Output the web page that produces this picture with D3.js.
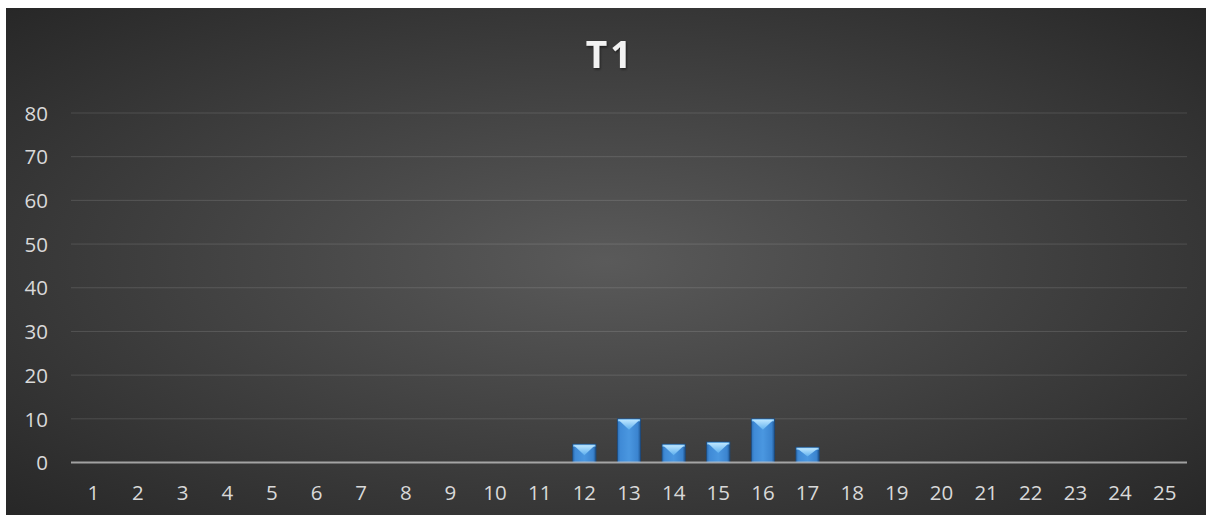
<!DOCTYPE html>
<html>
<head>
<meta charset="utf-8">
<script src="https://cdn.jsdelivr.net/npm/d3@7"></script>
<style>
  html, body { margin: 0; padding: 0; background: #ffffff; }
  svg { display: block; }
</style>
</head>
<body>
<svg id="chart" width="1206" height="517"></svg>
<script>
// Chart data
const title = "T1";
const categories = d3.range(1, 26).map(String);
const values = [0, 0, 0, 0, 0, 0, 0, 0, 0, 0, 0, 4.2, 10, 4.2, 4.7, 10, 3.5, 0, 0, 0, 0, 0, 0, 0, 0];
const yTicks = [0, 10, 20, 30, 40, 50, 60, 70, 80];

const svg = d3.select("#chart");
const W = 1206, H = 517;
const frame = { x: 6, y: 8, w: W - 6, h: 507 };
const plot = { left: 71, right: 1187, top: 113, bottom: 462.5 };
const labelFont = "'Open Sans', 'Noto Sans', sans-serif";

const defs = svg.append("defs");

// Background: dark radial fill, lighter toward the middle
const bg = defs.append("radialGradient").attr("id", "bgGrad")
  .attr("cx", 0.5).attr("cy", 0.5).attr("r", 0.75);
bg.append("stop").attr("offset", "0%").attr("stop-color", "#5a5a5a");
bg.append("stop").attr("offset", "100%").attr("stop-color", "#242424");

// Bar body: horizontal shading
const body = defs.append("linearGradient").attr("id", "barBody")
  .attr("x1", 0).attr("x2", 1).attr("y1", 0).attr("y2", 0);
body.append("stop").attr("offset", "0%").attr("stop-color", "#2c6fb5");
body.append("stop").attr("offset", "12%").attr("stop-color", "#3f8ad6");
body.append("stop").attr("offset", "50%").attr("stop-color", "#4a97e0");
body.append("stop").attr("offset", "88%").attr("stop-color", "#3b84cf");
body.append("stop").attr("offset", "100%").attr("stop-color", "#1f5590");

// Bevel highlight on the top of each bar
const bevel = defs.append("linearGradient").attr("id", "barBevel")
  .attr("x1", 0).attr("x2", 0).attr("y1", 0).attr("y2", 1);
bevel.append("stop").attr("offset", "0%").attr("stop-color", "#bde6ff");
bevel.append("stop").attr("offset", "100%").attr("stop-color", "#5fb0ee");

// soft shadow under the title
const shadow = defs.append("filter").attr("id", "titleShadow")
  .attr("x", "-20%").attr("y", "-20%").attr("width", "140%").attr("height", "140%");
shadow.append("feDropShadow").attr("dx", 1).attr("dy", 1.5)
  .attr("stdDeviation", 1.2).attr("flood-color", "#000").attr("flood-opacity", 0.5);

svg.append("rect")
  .attr("x", frame.x).attr("y", frame.y)
  .attr("width", frame.w).attr("height", frame.h)
  .attr("fill", "url(#bgGrad)");

// Scales
const x = d3.scaleBand().domain(categories)
  .range([plot.left, plot.right]).paddingInner(0.48).paddingOuter(0.24);
const y = d3.scaleLinear().domain([0, 80]).range([plot.bottom, plot.top]);

// Gridlines
svg.append("g").selectAll("line")
  .data(yTicks.filter(d => d > 0))
  .join("line")
  .attr("x1", plot.left).attr("x2", plot.right)
  .attr("y1", d => y(d)).attr("y2", d => y(d))
  .attr("stroke", "#ffffff").attr("stroke-opacity", 0.13)
  .attr("stroke-width", 1);

// Y axis labels
const yAxis = d3.axisLeft(y).tickValues(yTicks).tickSize(0).tickPadding(0);
const gy = svg.append("g").attr("transform", `translate(${48},0)`).call(yAxis);
gy.select(".domain").remove();
gy.selectAll("text")
  .attr("fill", "#d9d9d9")
  .attr("font-family", labelFont)
  .attr("font-size", 20.5)
  .attr("dy", "0.35em");

// Bars
const data = categories.map((c, i) => ({ cat: c, value: values[i] }));
const bars = svg.append("g").selectAll("g")
  .data(data.filter(d => d.value > 0))
  .join("g");

bars.append("rect")
  .attr("x", d => x(d.cat))
  .attr("y", d => y(d.value))
  .attr("width", x.bandwidth())
  .attr("height", d => y(0) - y(d.value))
  .attr("fill", "url(#barBody)")
  .attr("stroke", "#1b4a7e")
  .attr("stroke-width", 0.8);

// top bevel strip
bars.append("rect")
  .attr("x", d => x(d.cat) + 0.5)
  .attr("y", d => y(d.value) + 0.5)
  .attr("width", x.bandwidth() - 1)
  .attr("height", 2)
  .attr("fill", "#86c8f6");

// top bevel triangle
bars.append("path")
  .attr("d", d => {
    const x0 = x(d.cat) + 1, x1 = x(d.cat) + x.bandwidth() - 1;
    const t = y(d.value) + 1;
    const depth = Math.min(10, (y(0) - y(d.value)) * 0.55);
    return `M${x0},${t}L${x1},${t}L${(x0 + x1) / 2},${t + depth}Z`;
  })
  .attr("fill", "url(#barBevel)");

// Category axis line
svg.append("line")
  .attr("x1", plot.left).attr("x2", plot.right)
  .attr("y1", y(0)).attr("y2", y(0))
  .attr("stroke", "#c8c8c8").attr("stroke-opacity", 0.75)
  .attr("stroke-width", 2);

// X axis labels
const xAxis = d3.axisBottom(x).tickSize(0).tickPadding(0);
const gx = svg.append("g").attr("transform", `translate(0,${493})`).call(xAxis);
gx.select(".domain").remove();
gx.selectAll("text")
  .attr("fill", "#d9d9d9")
  .attr("font-family", labelFont)
  .attr("font-size", 20.5)
  .attr("dy", "0.35em");

// Title
svg.append("text")
  .attr("x", 610).attr("y", 68)
  .attr("text-anchor", "middle")
  .attr("fill", "#f2f2f2")
  .attr("font-family", labelFont)
  .attr("font-weight", 700)
  .attr("font-size", 37)
  .attr("letter-spacing", 3)
  .attr("filter", "url(#titleShadow)")
  .text(title);
</script>
</body>
</html>
